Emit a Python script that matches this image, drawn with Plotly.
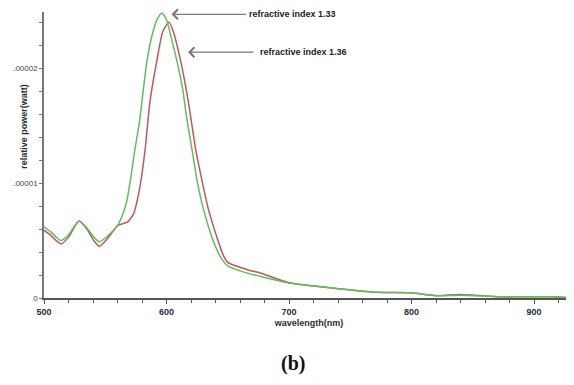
import plotly.graph_objects as go

# wavelength (nm) and relative power (x1e-5 W)
wl_133 = [500, 505, 510, 514, 520, 528.5, 535, 540, 545, 552, 560, 564, 567.5, 571, 574, 578, 584, 589, 593, 596.3,
          600, 604, 609, 613.5, 616, 621, 625, 630, 638, 645, 650, 668, 676, 701, 733, 772, 799, 821, 840, 872, 888, 915, 932]
p_133 = [0.62, 0.58, 0.53, 0.50, 0.55, 0.67, 0.61, 0.54, 0.49, 0.54, 0.63, 0.72, 0.84, 1.06, 1.28, 1.54, 2.06, 2.32, 2.44, 2.48,
         2.42, 2.26, 2.04, 1.80, 1.60, 1.28, 1.02, 0.78, 0.50, 0.34, 0.28, 0.21, 0.19, 0.13, 0.09, 0.05, 0.045, 0.02, 0.025, 0.01, 0.01, 0.01, 0.0]

wl_136 = [500, 505, 510, 514, 520, 528.5, 535, 540, 545, 552, 560, 565, 568, 573, 578, 582.4, 586.5, 592, 597, 602,
          605.5, 611.6, 617.8, 624, 629, 634, 642, 646, 650, 668, 676, 701, 733, 772, 799, 821, 840, 872, 888, 915, 932]
p_136 = [0.59, 0.55, 0.50, 0.47, 0.53, 0.67, 0.60, 0.51, 0.45, 0.52, 0.63, 0.65, 0.66, 0.73, 0.95, 1.28, 1.71, 2.06, 2.32, 2.40,
         2.32, 2.06, 1.71, 1.28, 1.02, 0.78, 0.50, 0.38, 0.31, 0.24, 0.22, 0.13, 0.09, 0.05, 0.045, 0.02, 0.03, 0.01, 0.01, 0.01, 0.0]

scale = 1e-5
y_tickvals = [0, 1e-5, 2e-5]
y_ticktext = ["0", ".00001", ".00002"]
x_tickvals = [500, 600, 700, 800, 900]

fig = go.Figure()
fig.add_trace(go.Scatter(x=wl_136, y=[v * scale for v in p_136], mode="lines",
                         line=dict(color="#c0585a", width=1.5, shape="spline", smoothing=0.6),
                         name="refractive index 1.36"))
fig.add_trace(go.Scatter(x=wl_133, y=[v * scale for v in p_133], mode="lines",
                         line=dict(color="#5cbf5c", width=1.5, shape="spline", smoothing=0.6),
                         name="refractive index 1.33"))

fig.update_layout(
    width=566, height=377,
    margin=dict(l=36, r=0, t=4, b=87, autoexpand=False),
    paper_bgcolor="white", plot_bgcolor="white",
    showlegend=False,
    font=dict(family="Liberation Sans, Arial, sans-serif"),
    xaxis=dict(range=[500, 932.6], showgrid=False, zeroline=False,
               showline=True, linecolor="#555555", linewidth=2,
               ticks="outside", ticklen=4, tickcolor="#555555", tickwidth=1,
               tickvals=x_tickvals,
               tickfont=dict(size=9, color="#1f2d3d", weight="bold"),
               minor=dict(dtick=20, ticks="outside", ticklen=3, tickcolor="#555555"),
               title=dict(text="wavelength(nm)", font=dict(size=9, color="#1f2d3d", weight="bold"), standoff=4)),
    yaxis=dict(range=[0, 2.49e-5], showgrid=False, zeroline=False,
               showline=True, linecolor="#777777", linewidth=1.5,
               ticks="outside", ticklen=3, tickcolor="#777777",
               tickvals=y_tickvals, ticktext=y_ticktext,
               tickfont=dict(size=8, color="#444444"),
               minor=dict(dtick=2e-6, ticks="outside", ticklen=3, tickcolor="#777777")),
)

# y-axis title (placed like the original, above axis centre)
fig.add_annotation(x=-0.037, y=0.6, xref="paper", yref="paper", text="relative power(watt)", textangle=-90,
                   showarrow=False, xanchor="center", yanchor="middle",
                   font=dict(size=9, color="#1f2d3d", weight="bold"))

# arrows
fig.add_annotation(x=604, y=2.47e-5, xref="x", yref="y", text="", showarrow=True,
                   ax=76, ay=0, arrowhead=4, arrowsize=1.6, arrowwidth=1.2, arrowcolor="#7a7a7a")
fig.add_annotation(x=617.5, y=2.14e-5, xref="x", yref="y", text="", showarrow=True,
                   ax=67, ay=0, arrowhead=4, arrowsize=1.6, arrowwidth=1.2, arrowcolor="#7a7a7a")
fig.add_annotation(x=604, y=2.47e-5, xref="x", yref="y", text="refractive index 1.33", showarrow=False,
                   xanchor="left", xshift=76, font=dict(size=9, color="#222222", weight="bold"))
fig.add_annotation(x=617.5, y=2.14e-5, xref="x", yref="y", text="refractive index 1.36", showarrow=False,
                   xanchor="left", xshift=70, font=dict(size=9, color="#222222", weight="bold"))

fig.add_annotation(x=0.47, y=-0.23, xref="paper", yref="paper", yanchor="middle", text="<b>(b)</b>",
                   showarrow=False, font=dict(family="Liberation Serif, Times New Roman, serif", size=20, color="#111111"))

fig.write_html("out.html")
